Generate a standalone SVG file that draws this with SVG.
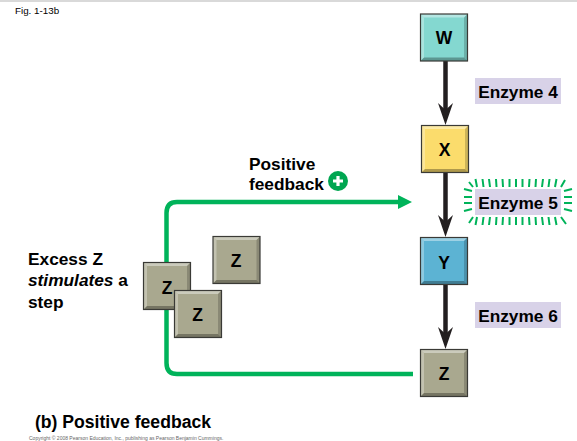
<svg xmlns="http://www.w3.org/2000/svg" xmlns:xlink="http://www.w3.org/1999/xlink" width="577" height="441" viewBox="0 0 577 441">
<style>
text{font-family:"Liberation Sans",Arial,sans-serif;fill:#000}
.b{font-weight:bold;font-size:17.300px}
.n{font-weight:bold;font-size:17.500px;text-anchor:middle}
.el{fill:#d8d2e8}
.e{font-weight:bold;font-size:17.300px;text-anchor:middle}
.g{fill:none;stroke:#00b35a;stroke-width:4.500}
.k{fill:none;stroke:#231f20;stroke-width:4.500}
.r{stroke:#00b35a;stroke-width:2;fill:none}
.z{fill:#a9a88f}
</style>
<defs>
<g id="bevel">
<polygon points="0,0 47,0 43.500,3.500 3.500,3.500" fill="#fff" opacity=".4"/>
<polygon points="0,0 3.500,3.500 3.500,43.500 0,47" fill="#fff" opacity=".3"/>
<polygon points="47,0 47,47 43.500,43.500 43.500,3.500" fill="#000" opacity=".18"/>
<polygon points="0,47 3.500,43.500 43.500,43.500 47,47" fill="#000" opacity=".3"/>
<rect width="47" height="47" fill="none" stroke="#3a3a36" stroke-width="1.200"/>
</g>
</defs>
<rect x="0" y="0" width="577" height="2" fill="#d9d9d9"/>
<text x="15" y="14" style="font-size:9.800px">Fig. 1-13b</text>
<g id="connectors">
<path class="g" d="M413,374 H177 Q166.500,374 166.500,363 V213 Q166.500,202 177,202 H400"/>
<polygon points="398,195 412,202 398,209" fill="#00b35a"/>
<path class="k" d="M445.500,60 V110"/>
<polygon points="445.500,125 438,103 445.500,110 453,103" fill="#231f20"/>
<path class="k" d="M445.500,172 V222"/>
<polygon points="445.500,237 438,215 445.500,222 453,215" fill="#231f20"/>
<path class="k" d="M445.500,284 V334"/>
<polygon points="445.500,349 438,327 445.500,334 453,327" fill="#231f20"/>
</g>
<g id="node-w"><rect x="420.500" y="14" width="47" height="47" fill="#84d8d0"/><use xlink:href="#bevel" href="#bevel" x="420.500" y="14"/><text class="n" x="444" y="44">W</text></g>
<g id="node-x"><rect x="421.500" y="125.500" width="47" height="47" fill="#fbdc6c"/><use xlink:href="#bevel" href="#bevel" x="421.500" y="125.500"/><text class="n" x="444.500" y="156">X</text></g>
<g id="node-y"><rect x="420.500" y="237.500" width="47" height="47" fill="#5cb3d3"/><use xlink:href="#bevel" href="#bevel" x="420.500" y="237.500"/><text class="n" x="444" y="269">Y</text></g>
<g id="node-z"><rect class="z" x="420.500" y="349.500" width="47" height="47"/><use xlink:href="#bevel" href="#bevel" x="420.500" y="349.500"/><text class="n" x="444" y="380">Z</text></g>
<g id="z-free-1"><rect class="z" x="213" y="236.500" width="47" height="47"/><use xlink:href="#bevel" href="#bevel" x="213" y="236.500"/><text class="n" x="236" y="267">Z</text></g>
<g id="z-free-2"><rect class="z" x="143.500" y="262.500" width="47" height="47"/><use xlink:href="#bevel" href="#bevel" x="143.500" y="262.500"/><text class="n" x="167" y="294">Z</text></g>
<g id="z-free-3"><rect class="z" x="174.500" y="290.500" width="47" height="47"/><use xlink:href="#bevel" href="#bevel" x="174.500" y="290.500"/><text class="n" x="197.500" y="321">Z</text></g>
<g id="enzyme-4"><rect class="el" x="475" y="78" width="86" height="26"/><text class="e" x="518" y="98">Enzyme 4</text></g>
<g id="enzyme-5">
<path class="r" d="M477,187 L475.500,179 M483.500,187 L482.500,179 M490,187 L489,179 M496.500,187 L496,179 M503,187 L502.500,179 M509.500,187 L509.500,179 M516,187 L516,179 M522.500,187 L522.500,179 M529,187 L529.500,179 M535.500,187 L536,179 M542,187 L543,179 M548.500,187 L549.500,179 M555,187 L556.500,179 M561,187 L565,180
M477,217 L475.500,225 M483.500,217 L482.500,225 M490,217 L489,225 M496.500,217 L496,225 M503,217 L502.500,225 M509.500,217 L509.500,225 M516,217 L516,225 M522.500,217 L522.500,225 M529,217 L529.500,225 M535.500,217 L536,225 M542,217 L543,225 M548.500,217 L549.500,225 M555,217 L556.500,225 M561,217 L566,224
M473,187 L469,182 M472,191 L464,189 M472,197 L464,197 M472,203 L464,203 M472,209 L464,211 M473,217 L469,223
M564,191 L572,189 M564,197 L572,197 M564,203 L572,203 M564,209 L572,211"/>
<rect class="el" x="475" y="189" width="86" height="26"/><text class="e" x="518" y="209">Enzyme 5</text></g>
<g id="enzyme-6"><rect class="el" x="475" y="302" width="86" height="26"/><text class="e" x="518" y="322">Enzyme 6</text></g>
<g id="label-positive">
<text class="b" x="249" y="170">Positive</text>
<text class="b" x="249" y="190">feedback</text>
<circle cx="338" cy="181" r="10" fill="#00a651"/>
<path d="M333,181 H343 M338,176 V186" stroke="#fff" stroke-width="3.200" fill="none"/>
</g>
<g id="label-excess">
<text class="b" x="28" y="265">Excess Z</text>
<text class="b" x="28" y="286"><tspan font-style="italic">stimulates</tspan> a</text>
<text class="b" x="28" y="308">step</text>
</g>
<text x="35" y="428" style="font-weight:bold;font-size:17.600px">(b) Positive feedback</text>
<text x="29" y="440" style="font-size:5px;fill:#666">Copyright © 2008 Pearson Education, Inc., publishing as Pearson Benjamin Cummings.</text>
</svg>
